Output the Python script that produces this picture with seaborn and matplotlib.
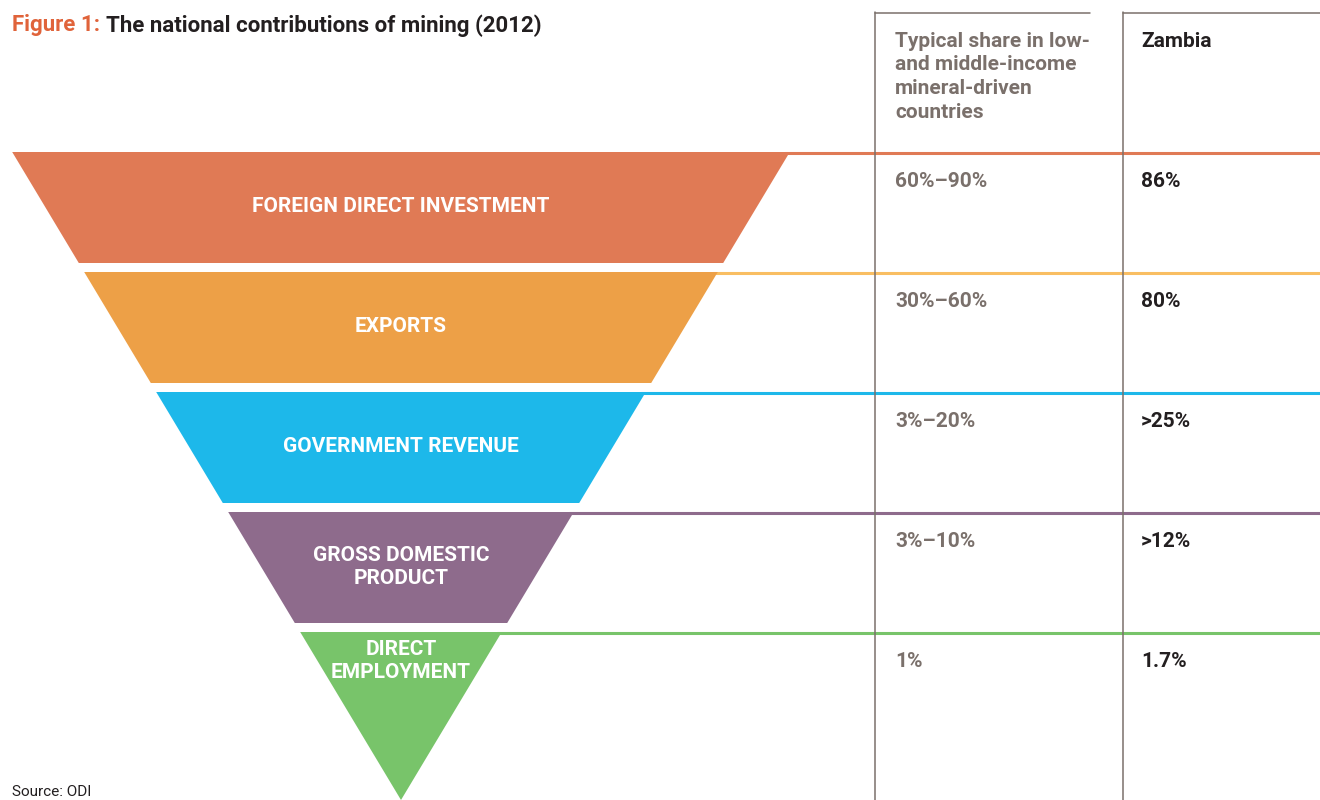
import matplotlib
matplotlib.use("Agg")
import matplotlib.pyplot as plt
import seaborn as sns
import numpy as np

# data
categories = ["FOREIGN DIRECT INVESTMENT", "EXPORTS", "GOVERNMENT REVENUE",
              "GROSS DOMESTIC\nPRODUCT", "DIRECT\nEMPLOYMENT"]
typical_share = ["60%\u201390%", "30%\u201360%", "3%\u201320%", "3%\u201310%", "1%"]
zambia_share = ["86%", "80%", ">25%", ">12%", "1.7%"]
fill_colors = ["#E07A55", "#EDA047", "#1DB8EA", "#8E6B8C", "#78C46A"]
line_colors = ["#E07A55", "#F9BE62", "#1DB8EA", "#8E6B8C", "#78C46A"]

sns.set_theme(style="white")
plt.rcParams["font.family"] = ["Roboto", "DejaVu Sans"]

W, H = 1320, 800
fig = plt.figure(figsize=(13.2, 8), dpi=100)
ax = fig.add_axes([0, 0, 1, 1])
ax.set_xlim(0, W)
ax.set_ylim(H, 0)
ax.axis("off")

# funnel geometry: one triangle cut into bands
apex_x, apex_y = 401, 800
top_y = 152
slope = 0.6
row_h, gap = 120, 9
grey = "#7A706B"
fs = 15


def half_width(y):
    return slope * (apex_y - y)


for i, cat in enumerate(categories):
    y0 = top_y + i * row_h
    last = i == len(categories) - 1
    y1 = apex_y if last else y0 + row_h - gap
    w0, w1 = half_width(y0), half_width(y1)
    xs = [apex_x - w0, apex_x + w0, apex_x + w1, apex_x - w1]
    ys = [y0, y0, y1, y1]
    ax.fill(xs, ys, color=fill_colors[i], lw=0, zorder=2)
    ax.plot([apex_x + w0 - 5, W], [y0 + 1, y0 + 1], color=line_colors[i], lw=2.2,
            solid_capstyle="butt", zorder=1)
    label_y = y0 + 29 if last else y0 + 55
    ax.text(apex_x, label_y, cat, color="white", fontsize=fs, fontweight="bold",
            ha="center", va="center", linespacing=1.25, zorder=3)
    ax.text(895, y0 + 20, typical_share[i], color=grey, fontsize=fs,
            fontweight="bold", ha="left", va="top")
    ax.text(1141, y0 + 20, zambia_share[i], color="#231F20", fontsize=fs,
            fontweight="bold", ha="left", va="top")

# table frame
ax.plot([875, 875], [12, H], color=grey, lw=1.1)
ax.plot([1123, 1123], [12, H], color=grey, lw=1.1)
ax.plot([875, 1090], [12.5, 12.5], color=grey, lw=1.1)
ax.plot([1123, W], [12.5, 12.5], color=grey, lw=1.1)

ax.text(895, 32, "Typical share in low-\nand middle-income\nmineral-driven\ncountries",
        color=grey, fontsize=fs, fontweight="bold", ha="left", va="top", linespacing=1.3)
ax.text(1141, 32, "Zambia", color="#231F20", fontsize=fs, fontweight="bold",
        ha="left", va="top")

# title in two colours
t1 = ax.text(12, 14, "Figure 1:", color="#E0633A", fontsize=16, fontweight="bold",
             ha="left", va="top")
fig.canvas.draw()
bb = t1.get_window_extent().transformed(ax.transData.inverted())
ax.text(bb.x1 + 6, 14, "The national contributions of mining (2012)", color="#231F20",
        fontsize=16, fontweight="bold", ha="left", va="top")

ax.text(12, 799, "Source: ODI", color="#231F20", fontsize=11, ha="left", va="bottom")

fig.savefig("out.png", dpi=100)
